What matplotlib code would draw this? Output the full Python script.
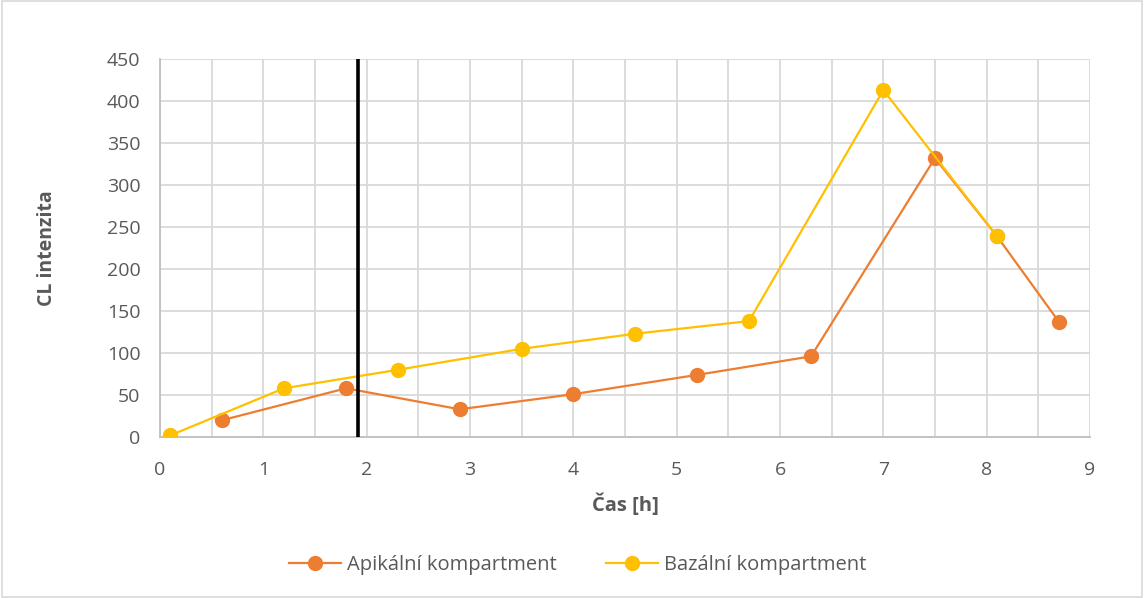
import matplotlib
matplotlib.use('Agg')
import matplotlib.pyplot as plt
from matplotlib.ticker import MultipleLocator

# apical / basal compartment chemiluminescence readings
apical_time = [0.6, 1.8, 2.9, 4.0, 5.2, 6.3, 7.5, 8.1, 8.7]
apical_cl = [20, 58, 33, 51, 74, 96, 332, 239, 137]
basal_time = [0.1, 1.2, 2.3, 3.5, 4.6, 5.7, 7.0, 8.1]
basal_cl = [2, 58, 80, 105, 123, 138, 413, 239]
marker_time = 1.92

plt.rcParams['font.family'] = ['Open Sans', 'DejaVu Sans']
text_color = "#595959"
grid_color = "#d9d9d9"

fig = plt.figure(figsize=(11.44, 5.98), dpi=100)
ax = fig.add_axes([0.1399, 0.2692, 0.8129, 0.6321])

ax.plot(apical_time, apical_cl, color="#ED7D31", linewidth=1.6, marker="o",
        markersize=10, label="Apikální kompartment", zorder=3)
ax.plot(basal_time, basal_cl, color="#FFC000", linewidth=1.6, marker="o",
        markersize=10, label="Bazální kompartment", zorder=4)
ax.axvline(marker_time, ymin=0, ymax=1, color="black", linewidth=2.6, zorder=5)

ax.set_xlim(0, 9)
ax.set_ylim(0, 450)
ax.xaxis.set_major_locator(MultipleLocator(1))
ax.xaxis.set_minor_locator(MultipleLocator(0.5))
ax.yaxis.set_major_locator(MultipleLocator(50))
ax.grid(True, which="both", color=grid_color, linewidth=1.3, zorder=0)
ax.set_axisbelow(True)

for side in ["top", "right"]:
    ax.spines[side].set_visible(False)
for side in ["left", "bottom"]:
    ax.spines[side].set_color("#bfbfbf")
    ax.spines[side].set_linewidth(1.3)

ax.tick_params(which="both", length=0, labelsize=14, labelcolor=text_color)
ax.tick_params(axis="y", pad=14)
ax.tick_params(axis="x", pad=17)
ax.set_xlabel("Čas [h]", fontsize=14.5, fontweight="bold", color=text_color, labelpad=11)
ax.set_ylabel("CL intenzita", fontsize=14, fontweight="bold", color=text_color, labelpad=36)

fig.legend(loc="center", bbox_to_anchor=(0.505, 0.055), ncol=2, frameon=False,
           fontsize=14.5, labelcolor=text_color, handlelength=2.6, columnspacing=2.4,
           handletextpad=0.3)

# light frame around the whole chart area
fig.patches.append(plt.Rectangle((0.002, 0.002), 0.996, 0.996, transform=fig.transFigure,
                                 fill=False, edgecolor="#d9d9d9", linewidth=1.2))

fig.savefig("out.png", dpi=100)
